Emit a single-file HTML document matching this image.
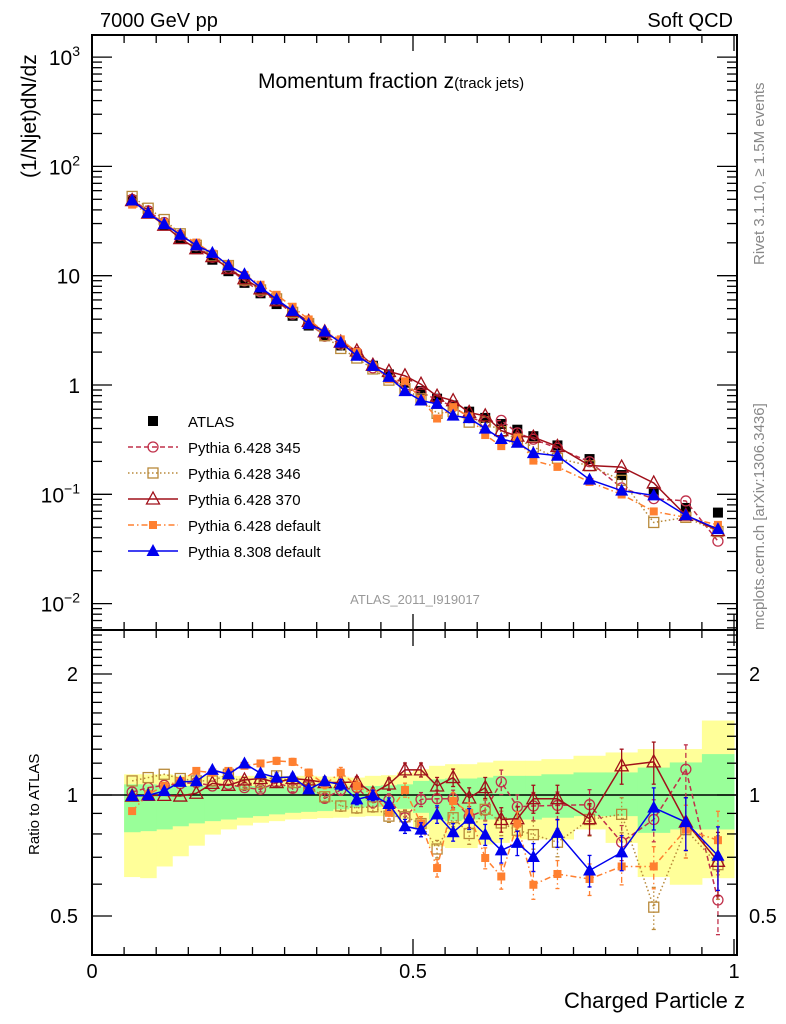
<!DOCTYPE html>
<html><head><meta charset="utf-8"><style>
body{margin:0;background:#fff;}
svg{display:block;font-family:"Liberation Sans",sans-serif;}
</style></head><body>
<svg id="chart" width="786" height="1024" viewBox="0 0 786 1024" xmlns="http://www.w3.org/2000/svg">
<rect x="0" y="0" width="786" height="1024" fill="#fff"/>
<g id="bands"></g>
<g id="grid"></g>
<g id="series"></g>
<rect x="92" y="35" width="645" height="595" fill="none" stroke="#000" stroke-width="2"/>
<rect x="92" y="630" width="645" height="325" fill="none" stroke="#000" stroke-width="2"/>
<g id="ticks"></g>
<text x="100" y="27" font-size="20">7000 GeV pp</text>
<text x="733" y="27" font-size="20" text-anchor="end">Soft QCD</text>
<text x="258" y="88" font-size="21">Momentum fraction z<tspan font-size="15">(track jets)</tspan></text>
<text transform="translate(36,178) rotate(-90)" font-size="21">(1/Njet)dN/dz</text>
<text transform="translate(39,855) rotate(-90)" font-size="15">Ratio to ATLAS</text>
<text x="745" y="1008" font-size="22" text-anchor="end">Charged Particle z</text>
<text transform="translate(764,265) rotate(-90)" font-size="15" fill="#888">Rivet 3.1.10, ≥ 1.5M events</text>
<text transform="translate(764,630) rotate(-90)" font-size="15" fill="#888">mcplots.cern.ch [arXiv:1306.3436]</text>
<text x="415" y="604" font-size="13" fill="#999" text-anchor="middle">ATLAS_2011_I919017</text>
<g id="legend"></g>
</svg>
<script>
const zVals=[0.0625,0.0875,0.1125,0.1375,0.1625,0.1875,0.2125,0.2375,0.2625,0.2875,0.3125,0.3375,0.3625,0.3875,0.4125,0.4375,0.4625,0.4875,0.5125,0.5375,0.5625,0.5875,0.6125,0.6375,0.6625,0.6875,0.725,0.775,0.825,0.875,0.925,0.975];
const zLo=[0.05,0.075,0.1,0.125,0.15,0.175,0.2,0.225,0.25,0.275,0.3,0.325,0.35,0.375,0.4,0.425,0.45,0.475,0.5,0.525,0.55,0.575,0.6,0.625,0.65,0.675,0.7,0.75,0.8,0.85,0.9,0.95];
const zHi=[0.075,0.1,0.125,0.15,0.175,0.2,0.225,0.25,0.275,0.3,0.325,0.35,0.375,0.4,0.425,0.45,0.475,0.5,0.525,0.55,0.575,0.6,0.625,0.65,0.675,0.7,0.75,0.8,0.85,0.9,0.95,1.0];
const atlas=[49,37.5,29,22,17.5,14,11,8.6,6.9,5.5,4.3,3.5,2.85,2.3,1.9,1.5,1.25,1.05,0.88,0.75,0.65,0.57,0.5,0.44,0.39,0.34,0.28,0.21,0.15,0.105,0.075,0.068];
const r345=[1.017,1.043,1.057,1.067,1.074,1.053,1.063,1.043,1.033,1.074,1.039,1.057,0.981,1.029,1.043,0.957,0.972,0.878,0.975,0.979,0.979,0.883,0.917,1.078,0.935,0.939,0.942,0.946,0.763,0.869,1.159,0.548];
const r346=[1.084,1.105,1.126,1.099,1.084,1.084,1.126,1.063,1.074,1.116,1.074,1.043,0.99,0.939,0.929,0.935,0.886,0.883,0.849,0.734,0.878,0.802,0.921,0.852,0.817,0.797,0.763,0.869,0.895,0.526,0.82,0.671];
const r370=[0.994,0.998,0.998,0.994,1.01,1.069,1.057,1.09,1.099,1.074,1.099,1.09,1.074,1.074,1.078,1.01,1.065,1.155,1.155,1.053,1.105,0.983,1.043,0.869,0.873,0.979,0.979,0.873,1.182,1.209,0.856,0.684];
const rDef6=[0.912,1.004,1.053,1.084,1.148,1.137,1.148,1.182,1.198,1.216,1.209,1.137,1.063,1.137,1.053,1.004,0.903,1.029,0.849,0.658,0.966,0.903,0.697,0.627,0.849,0.598,0.636,0.618,0.664,0.664,0.82,0.772];
const rPy8=[0.994,0.998,1.023,1.078,1.082,1.155,1.126,1.198,1.133,1.105,1.109,1.033,1.082,1.061,0.975,0.998,0.95,0.836,0.82,0.895,0.808,0.873,0.797,0.728,0.76,0.701,0.805,0.649,0.72,0.93,0.856,0.706];
const errFrac=[0.01,0.01,0.01,0.01,0.01,0.01,0.01,0.015,0.015,0.02,0.02,0.02,0.025,0.03,0.03,0.03,0.035,0.04,0.04,0.05,0.05,0.06,0.06,0.07,0.07,0.08,0.08,0.09,0.1,0.12,0.15,0.18];
const yellowLo=[0.625,0.621,0.664,0.704,0.748,0.797,0.821,0.84,0.853,0.861,0.869,0.872,0.876,0.878,0.883,0.886,0.886,0.869,0.821,0.745,0.738,0.738,0.753,0.76,0.775,0.775,0.775,0.821,0.76,0.625,0.598,0.621];
const yellowHi=[1.126,1.126,1.126,1.12,1.116,1.116,1.116,1.116,1.116,1.116,1.116,1.116,1.111,1.111,1.105,1.116,1.12,1.138,1.159,1.182,1.193,1.193,1.205,1.217,1.217,1.217,1.228,1.252,1.276,1.301,1.301,1.532];
const greenLo=[0.808,0.813,0.821,0.836,0.85,0.861,0.869,0.878,0.886,0.895,0.903,0.908,0.912,0.921,0.93,0.935,0.935,0.924,0.903,0.869,0.861,0.869,0.869,0.869,0.869,0.869,0.878,0.886,0.886,0.805,0.821,0.821];
const greenHi=[1.063,1.063,1.057,1.053,1.053,1.053,1.053,1.053,1.053,1.053,1.049,1.049,1.049,1.049,1.049,1.053,1.057,1.063,1.084,1.094,1.099,1.099,1.105,1.116,1.116,1.116,1.126,1.138,1.138,1.17,1.205,1.264];
const mainTickVals=[1000,100,10,1,0.1,0.01];
const mainTickBase=["10","10","10","1","10","10"];
const mainTickExp=["3","2","","","−1","−2"];
const ratioTickVals=[2,1,0.5];
const ratioTickLabels=["2","1","0.5"];
const xTickVals=[0,0.5,1];
const xTickLabels=["0","0.5","1"];

const NS="http://www.w3.org/2000/svg";
const X=z=>92+z*642;
const YM=v=>385-109.3*Math.log10(v);
const YR=r=>{const y=795-121*Math.log2(r);return Math.max(631,Math.min(954,y));};
function mk(tag,attrs,parent){const e=document.createElementNS(NS,tag);for(const k in attrs)e.setAttribute(k,attrs[k]);parent.appendChild(e);return e;}
const bands=document.getElementById('bands'),ser=document.getElementById('series'),tk=document.getElementById('ticks'),lg=document.getElementById('legend');

zVals.forEach((z,i)=>{
  const y=mk('rect',{x:X(zLo[i]),y:YR(yellowHi[i]),width:X(zHi[i])-X(zLo[i])+0.5,height:YR(yellowLo[i])-YR(yellowHi[i]),fill:'#ffff99'},bands);
  
  
});
zVals.forEach((z,i)=>{
  const g=mk('rect',{x:X(zLo[i]),y:YR(greenHi[i]),width:X(zHi[i])-X(zLo[i])+0.5,height:YR(greenLo[i])-YR(greenHi[i]),fill:'#99ff99'},bands);
  
  
});
const one=mk('line',{x1:92,x2:737,y1:YR(1),y2:YR(1),stroke:'#000','stroke-width':1.5},bands);



for(let z=0;z<=1.0001;z+=0.05){
  const big=Math.abs(z-0.5)<1e-6||z<1e-6||Math.abs(z-1)<1e-6;const L=big?16:8;
  [[35,1],[630,-1],[630,1],[955,-1]].forEach(([y,d])=>{mk('line',{x1:X(z),x2:X(z),y1:y,y2:y+d*L,stroke:'#000','stroke-width':1.3},tk);});
}
for(let e=-3;e<=3;e++){for(let m=1;m<10;m++){const v=m*Math.pow(10,e);const y=YM(v);if(y<36||y>629)continue;const L=m==1?20:10;
  mk('line',{x1:92,x2:92+L,y1:y,y2:y,stroke:'#000','stroke-width':1.3},tk);mk('line',{x1:737,x2:737-L,y1:y,y2:y,stroke:'#000','stroke-width':1.3},tk);}}
mainTickVals.forEach((v,i)=>{const t=mk('text',{x:80,y:YM(v)+8,'font-size':21,'text-anchor':'end'},tk);
  const b=mk('tspan',{},t);b.textContent=mainTickBase[i];
  if(mainTickExp[i]){const s=mk('tspan',{'font-size':14,dy:-9},t);s.textContent=mainTickExp[i];}
  
  });
[0.4,0.5,0.6,0.7,0.8,0.9,1,1.1,1.2,1.3,1.4,1.5,1.6,1.7,1.8,1.9,2,2.1,2.2,2.3,2.4,2.5].forEach(r=>{const y=795-121*Math.log2(r);if(y<631||y>954)return;const big=(r==0.5||r==1||r==2);const L=big?20:10;
  mk('line',{x1:92,x2:92+L,y1:y,y2:y,stroke:'#000','stroke-width':1.3},tk);mk('line',{x1:737,x2:737-L,y1:y,y2:y,stroke:'#000','stroke-width':1.3},tk);});
ratioTickVals.forEach((r,i)=>{const y=YR(r)+7;
  const a=mk('text',{x:78,y:y,'font-size':20,'text-anchor':'end'},tk);a.textContent=ratioTickLabels[i];
  
  
  const b=mk('text',{x:749,y:y,'font-size':20},tk);b.textContent=ratioTickLabels[i];
  
  });
xTickVals.forEach((z,i)=>{const t=mk('text',{x:X(z),y:978,'font-size':20,'text-anchor':'middle'},tk);t.textContent=xTickLabels[i];
  
  });

function marker(type,x,y,col,parent){
  if(type==='sqf')return mk('rect',{x:x-5,y:y-5,width:10,height:10,fill:col},parent);
  if(type==='sqs')return mk('rect',{x:x-4,y:y-4,width:8,height:8,fill:col},parent);
  if(type==='sqo')return mk('rect',{x:x-5,y:y-5,width:10,height:10,fill:'none',stroke:col,'stroke-width':1.3},parent);
  if(type==='circ')return mk('circle',{cx:x,cy:y,r:5,fill:'none',stroke:col,'stroke-width':1.3},parent);
  if(type==='trio')return mk('polygon',{points:`${x},${y-7} ${x-6.5},${y+5} ${x+6.5},${y+5}`,fill:'none',stroke:col,'stroke-width':1.3},parent);
  if(type==='trif')return mk('polygon',{points:`${x},${y-7} ${x-6.5},${y+5} ${x+6.5},${y+5}`,fill:col},parent);
}
const series=[
 {name:'Pythia 6.428 345',r:r345,col:'#c0304a',dash:'5,3',m:'circ',key:'pythia-6428-345'},
 {name:'Pythia 6.428 346',r:r346,col:'#b8893a',dash:'1.5,2.5',m:'sqo',key:'pythia-6428-346'},
 {name:'Pythia 6.428 370',r:r370,col:'#a0101a',dash:'',m:'trio',key:'pythia-6428-370'},
 {name:'Pythia 6.428 default',r:rDef6,col:'#ff8030',dash:'6,3,1.5,3',m:'sqs',key:'pythia-6428-default'},
 {name:'Pythia 8.308 default',r:rPy8,col:'#0000ee',dash:'',m:'trif',key:'pythia-8308-default'}
];
zVals.forEach((z,i)=>{const e=marker('sqf',X(z),YM(atlas[i]),'#000',ser);
  
  });
series.forEach(s=>{
  const g=mk('g',{},ser);
  
  
  const mainPts=zVals.map((z,i)=>X(z)+','+YM(atlas[i]*s.r[i])).join(' ');
  const ratPts=zVals.map((z,i)=>X(z)+','+YR(s.r[i])).join(' ');
  const l1=mk('polyline',{points:mainPts,fill:'none',stroke:s.col,'stroke-width':1.5,'stroke-dasharray':s.dash},g);
  
  
  const l2=mk('polyline',{points:ratPts,fill:'none',stroke:s.col,'stroke-width':1.5,'stroke-dasharray':s.dash},g);
  
  
  zVals.forEach((z,i)=>{
    const x=X(z),r=s.r[i],e=errFrac[i];
    const y1=YR(r*(1+e)),y2=YR(r*(1-e));
    if(y2-y1>4){mk('line',{x1:x,x2:x,y1:y1,y2:y2,stroke:s.col,'stroke-width':1.3,'stroke-dasharray':s.dash},g);
      mk('line',{x1:x-2,x2:x+2,y1:y1,y2:y1,stroke:s.col,'stroke-width':1.3},g);mk('line',{x1:x-2,x2:x+2,y1:y2,y2:y2,stroke:s.col,'stroke-width':1.3},g);}
    const a=marker(s.m,x,YM(atlas[i]*r),s.col,g);
    
    
    const b=marker(s.m,x,YR(r),s.col,g);
    
    
  });
});
const legY=[421,447,473,499,525,551];
const e0=marker('sqf',153,legY[0],'#000',lg);


const t0=mk('text',{x:188,y:legY[0]+6,'font-size':15},lg);t0.textContent='ATLAS';


series.forEach((s,i)=>{const y=legY[i+1];
  mk('line',{x1:128,x2:178,y1:y,y2:y,stroke:s.col,'stroke-width':1.5,'stroke-dasharray':s.dash},lg);
  const m=marker(s.m,153,y,s.col,lg);
  
  
  const t=mk('text',{x:188,y:y+6,'font-size':15},lg);t.textContent=s.name;
  
  
});
</script>
</body></html>
